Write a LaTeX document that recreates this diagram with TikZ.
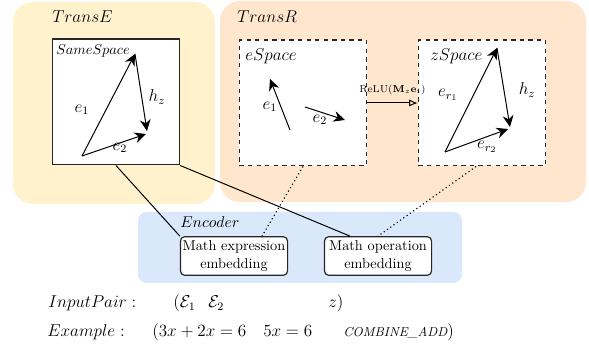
\documentclass[tikz,border=0pt]{standalone}
\usepackage{amssymb}
\usepackage{amsmath}
\usepackage{tikz}
\usetikzlibrary{arrows.meta,calc}

\definecolor{yellowbg}{HTML}{FFF2CC}
\definecolor{orangebg}{HTML}{FFE6CC}
\definecolor{bluebg}{HTML}{DAE8FC}

\begin{document}
\begin{tikzpicture}[x=0.7pt,y=-0.7pt,
    spacebox/.style={draw=black!85, line width=0.9pt, fill=white, minimum width=89pt, minimum height=88pt, inner sep=0pt},
    embbox/.style={draw=black!85, line width=0.8pt, rounded corners=3pt, fill=white, align=center, minimum width=75pt, minimum height=27pt, inner sep=1pt},
    vec/.style={line width=0.7pt, -{Stealth[length=8pt,width=7.5pt]}},
    lbl/.style={anchor=west, inner sep=0pt},
    txt/.style={anchor=base west, inner sep=0pt}]
            \useasboundingbox (0,0) rectangle (589,350);

            % backgrounds
            \fill[yellowbg, rounded corners=14pt] (13,2) rectangle (215,204);
            \fill[orangebg, rounded corners=14pt] (220,1) rectangle (586,202);
            \fill[bluebg, rounded corners=6pt] (138,212) rectangle (462,283);

            \node[lbl] (transe) at (52,17) {\large $TransE$};
            \node[lbl] (transr) at (237,17) {\large $TransR$};
            \node[lbl] (encoder) at (180,222) {\fontsize{11pt}{13pt}\selectfont $Encoder$};

            % spaces
            \node[spacebox] (same) at (116,102) {};
            \node[spacebox, dashed] (espace) at (303,103) {};
            \node[spacebox, dashed] (zspace) at (482,103) {};
            \node[lbl] (samelbl) at (56,51) {$SameSpace$};
            \node[lbl] (elbl) at (245,56) {\large $eSpace$};
            \node[lbl] (zlbl) at (430,56) {\large $zSpace$};

            % embeddings
            \node[embbox] (memb) at (234,256) {Math expression\\embedding};
            \node[embbox] (oemb) at (378,256) {Math operation\\embedding};

            \draw [line width=0.7pt] (same.south) -- (memb.north west);
            \draw [line width=0.7pt] (same.south east) -- ($(oemb.north)+(-28,0)$);
            \draw [dotted, line width=0.8pt] (espace.south) -- ($(memb.north)+(28,0)$);
            \draw [dotted, line width=0.8pt] ($(zspace.south)+(-6,0)$) -- (oemb.north);

            \draw [line width=0.7pt, -{Latex[open,length=6pt,width=5pt]}] (espace.east) -- (zspace.west)
                node [midway, above=2pt] (relu) {\scriptsize $\mathrm{ReLU}(\mathbf{M}_z\mathbf{e}_i)$};

            % SameSpace vectors
            \coordinate (a1) at (82,156);
            \coordinate (a2) at (135,54);
            \coordinate (a3) at (147,131);
            \coordinate (a4) at (146,134);
            \draw [vec] (a1) -- (a2);
            \draw [vec] (a2) -- (a3);
            \draw [vec] (a1) -- (a4);
            \node (ae1) at (82,110) {\large $e_1$};
            \node (ahz) at (157,97) {\large $h_z$};
            \node (ae2) at (120,148) {\large $e_2$};

            % eSpace vectors
            \coordinate (b1) at (290,130);
            \coordinate (b2) at (270,79);
            \coordinate (b3) at (305,107);
            \coordinate (b4) at (345,120);
            \draw [vec] (b1) -- (b2);
            \draw [vec] (b3) -- (b4);
            \node (be1) at (270,107) {\large $e_1$};
            \node (be2) at (320,120) {\large $e_2$};

            % zSpace vectors
            \coordinate (c1) at (445,152);
            \coordinate (c2) at (497,48);
            \coordinate (c3) at (510,127);
            \coordinate (c4) at (508,129);
            \draw [vec] (c1) -- (c2);
            \draw [vec] (c2) -- (c3);
            \draw [vec] (c1) -- (c4);
            \node (ce1) at (448,95) {\large $e_{r_1}$};
            \node (chz) at (527,90) {\large $h_z$};
            \node (ce2) at (487,147) {\large $e_{r_2}$};

            % input rows
            \node[txt] (inpair) at (48,308) {\large $InputPair :$};
            \node[txt] (ie1) at (173,308) {\large $(\mathcal{E}_1$};
            \node[txt] (ie2) at (208,308) {\large $\mathcal{E}_2$};
            \node[txt] (iz) at (328,308) {\large $z)$};
            \node[txt] (expl) at (47,337) {\large $Example :$};
            \node[txt] (ex1) at (152,337) {\large $(3x+2x=6$};
            \node[txt] (ex2) at (263,337) {\large $5x=6$};
            \node[txt] (ex3) at (343,337) {{\small\itshape COMBINE\_ADD}\large $)$};

            \end{tikzpicture}
\end{document}
